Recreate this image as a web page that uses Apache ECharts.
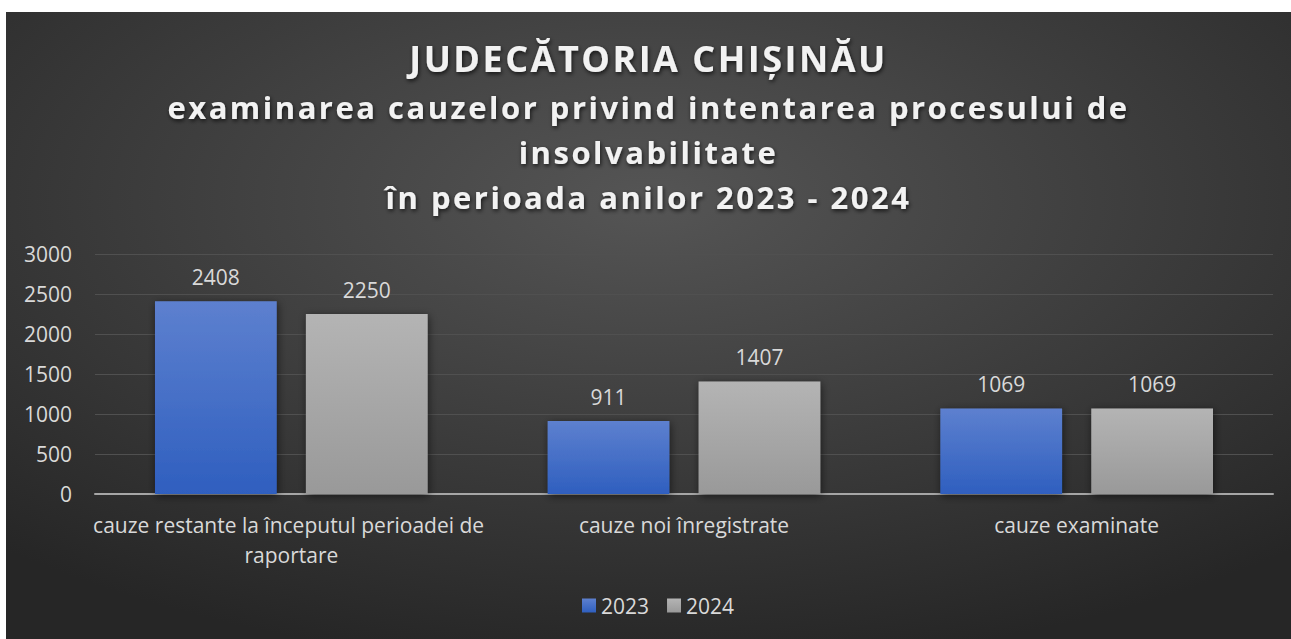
<!DOCTYPE html>
<html>
<head>
<meta charset="utf-8">
<script src="https://cdn.jsdelivr.net/npm/echarts@6/dist/echarts.min.js"></script>
<style>
  html, body { margin: 0; padding: 0; background: #ffffff; width: 1291px; height: 639px; overflow: hidden; }
  #chart { position: absolute; left: 6px; top: 12px; width: 1285px; height: 627px; }
  #chart text[style*="bold"] { letter-spacing: 2.5px; }
</style>
</head>
<body>
<div id="chart"></div>
<script>
const titleMain = 'JUDECĂTORIA CHIȘINĂU';
const titleSub = 'examinarea cauzelor privind intentarea procesului de\ninsolvabilitate\nîn perioada anilor 2023 - 2024';
const categories = ['cauze restante la începutul perioadei de raportare', 'cauze noi înregistrate', 'cauze examinate'];
const seriesNames = ['2023', '2024'];
const values2023 = [2408, 911, 1069];
const values2024 = [2250, 1407, 1069];
const yTicks = [0, 500, 1000, 1500, 2000, 2500, 3000];

const chart = echarts.init(document.getElementById('chart'), null, { renderer: 'svg' });
const font = '"Open Sans", "Noto Sans", sans-serif';
const txt = '#d9d9d9';

function barColor(top, bottom) {
  return { type: 'linear', x: 0, y: 0, x2: 0, y2: 1, colorStops: [{ offset: 0, color: top }, { offset: 1, color: bottom }] };
}

chart.setOption({
  backgroundColor: {
    type: 'radial', x: 0.5, y: 0.3, r: 0.75,
    colorStops: [{ offset: 0, color: '#555555' }, { offset: 1, color: '#262626' }]
  },
  title: {
    text: titleMain,
    subtext: titleSub,
    left: 'center',
    top: 23,
    itemGap: 8,
    textStyle: {
      fontFamily: font, fontWeight: 'bold', fontSize: 36, color: '#f2f2f2',
      textShadowColor: 'rgba(0,0,0,0.7)', textShadowBlur: 4, textShadowOffsetX: 1, textShadowOffsetY: 2
    },
    subtextStyle: {
      fontFamily: font, fontWeight: 'bold', fontSize: 31, color: '#f2f2f2', lineHeight: 45,
      textShadowColor: 'rgba(0,0,0,0.7)', textShadowBlur: 4, textShadowOffsetX: 1, textShadowOffsetY: 2
    }
  },
  legend: {
    data: seriesNames,
    bottom: 18,
    left: 571,
    itemWidth: 14, itemHeight: 14, itemGap: 18,
    icon: 'rect',
    textStyle: { color: txt, fontSize: 21, fontFamily: font }
  },
  grid: { left: 89, right: 18, top: 242, bottom: 145 },
  xAxis: {
    type: 'category',
    data: categories,
    axisTick: { show: false },
    axisLine: { lineStyle: { color: '#a6a6a6', width: 2 } },
    axisLabel: {
      color: txt, fontSize: 21, fontFamily: font, margin: 16, lineHeight: 30,
      width: 420, overflow: 'break', interval: 0
    }
  },
  yAxis: {
    type: 'value',
    min: yTicks[0], max: yTicks[yTicks.length - 1], interval: 500,
    axisLine: { show: false },
    axisTick: { show: false },
    splitLine: { lineStyle: { color: '#505050', width: 1 } },
    axisLabel: { color: txt, fontSize: 21, fontFamily: font, margin: 23, formatter: (v) => String(v) }
  },
  series: [
    {
      name: seriesNames[0], type: 'bar', data: values2023,
      barWidth: '31%', barGap: '24%',
      itemStyle: { color: barColor('#5d80cf', '#2f5fbf'), shadowColor: 'rgba(0,0,0,0.55)', shadowBlur: 8, shadowOffsetX: 1, shadowOffsetY: 2 },
      label: { show: true, position: 'top', distance: 14, color: txt, fontSize: 21, fontFamily: font }
    },
    {
      name: seriesNames[1], type: 'bar', data: values2024,
      barWidth: '31%', barGap: '24%',
      itemStyle: { color: barColor('#b4b4b4', '#999999'), shadowColor: 'rgba(0,0,0,0.55)', shadowBlur: 8, shadowOffsetX: 1, shadowOffsetY: 2 },
      label: { show: true, position: 'top', distance: 14, color: txt, fontSize: 21, fontFamily: font }
    }
  ]
});
</script>
</body>
</html>
